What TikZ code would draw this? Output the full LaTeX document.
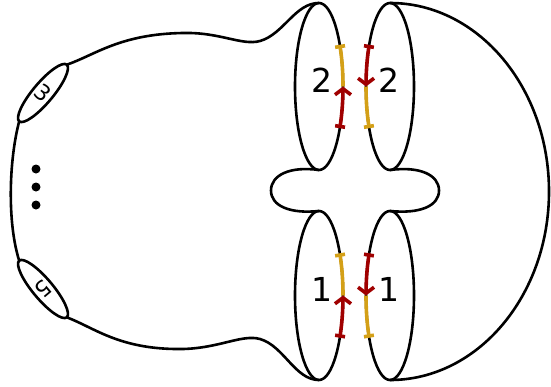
\documentclass[tikz,border=0pt]{standalone}
\usepackage{fontspec}
\setmainfont{DejaVu Sans}
\usetikzlibrary{arrows.meta}
\definecolor{gold}{RGB}{212,160,23}
\definecolor{dred}{RGB}{160,0,0}
\tikzset{
  outline/.style={line width=2.6pt, black, line join=round},
  goldseg/.style={line width=3.6pt, gold},
  redseg/.style={line width=3.6pt, dred},
  bigtxt/.style={font=\fontsize{33}{38}\selectfont, inner sep=0pt},
  smalltxt/.style={font=\fontsize{22}{26}\selectfont, inner sep=0pt},
  dotmark/.style={fill=black, circle, inner sep=0pt, minimum size=9pt},
}
\begin{document}
\begin{tikzpicture}[x=1pt, y=-1pt]
\useasboundingbox (0,0) rectangle (551,386);
% boundary circles
\draw[outline] (319,86.5) ellipse [x radius=24pt, y radius=83.5pt];
\draw[outline] (390,86.5) ellipse [x radius=24pt, y radius=83.5pt];
\draw[outline] (319,295.5) ellipse [x radius=24pt, y radius=84.5pt];
\draw[outline] (390,295.5) ellipse [x radius=24pt, y radius=84.5pt];
% small boundary ellipses
\draw[outline, rotate around={50:(43,93)}] (43,93) ellipse [x radius=37pt, y radius=10pt];
\draw[outline, rotate around={-50:(43,289)}] (43,289) ellipse [x radius=37pt, y radius=10pt];
\node[smalltxt, rotate=-40] (l3) at (43,92.5) {3};
\node[smalltxt, rotate=-140] (l5) at (43,289.5) {5};
% coordinates
\coordinate (e3a) at (66.8,64.7);
\coordinate (e3b) at (19.2,121.3);
\coordinate (e5a) at (19.2,260.7);
\coordinate (e5b) at (66.8,317.3);
\coordinate (tl) at (319,3);
\coordinate (tr) at (390,3);
\coordinate (bl) at (319,380);
\coordinate (br) at (390,380);
% body outline
\draw[outline] (e3a) .. controls (95,55) and (120,34) .. (183,33)
  .. controls (220,32) and (242,46) .. (260,41)
  .. controls (284,34) and (295,3) .. (tl);
\draw[outline] (e5b) .. controls (95,328) and (120,350) .. (183,349)
  .. controls (220,348) and (242,334) .. (260,339)
  .. controls (284,346) and (295,380) .. (bl);
\draw[outline] (e3b) .. controls (9,160) and (7,222) .. (e5a);
% middle lobes
\draw[outline] (319,170) .. controls (290,166) and (271,175) .. (271,190.5)
  .. controls (271,206) and (290,214) .. (319,211);
\draw[outline] (390,170) .. controls (420,166) and (439,175) .. (439,190.5)
  .. controls (439,206) and (420,214) .. (390,211);
% big right arc
\draw[outline] (tr) .. controls (477.8,3) and (549,87.4) .. (549,191.5)
  .. controls (549,295.6) and (477.8,380) .. (br);
% dots
\node[dotmark] (d1) at (36,169) {};
\node[dotmark] (d2) at (36,187) {};
\node[dotmark] (d3) at (36,205) {};
% labels
\node[bigtxt] (a2) at (321.5,80.5) {2};
\node[bigtxt] (b2) at (388.5,80.5) {2};
\node[bigtxt] (a1) at (321.5,289.5) {1};
\node[bigtxt] (b1) at (388.5,289.5) {1};
% coloured arcs, top pair
\draw[goldseg, {Bar[width=10pt]}-] plot[domain=30:0, samples=25] ({319+24*cos(\x)},{86.5-83.5*sin(\x)});
\draw[redseg, {Bar[width=10pt]}-{Straight Barb[length=6pt, width=16pt]}] plot[domain=-30:0, samples=25] ({319+24*cos(\x)},{86.5-83.5*sin(\x)});
\draw[redseg, {Bar[width=10pt]}-{Straight Barb[length=6pt, width=16pt]}] plot[domain=150:180, samples=25] ({390+24*cos(\x)},{86.5-83.5*sin(\x)});
\draw[goldseg, -{Bar[width=10pt]}] plot[domain=180:210, samples=25] ({390+24*cos(\x)},{86.5-83.5*sin(\x)});
% coloured arcs, bottom pair
\draw[goldseg, {Bar[width=10pt]}-] plot[domain=30:0, samples=25] ({319+24*cos(\x)},{295.5-84.5*sin(\x)});
\draw[redseg, {Bar[width=10pt]}-{Straight Barb[length=6pt, width=16pt]}] plot[domain=-30:0, samples=25] ({319+24*cos(\x)},{295.5-84.5*sin(\x)});
\draw[redseg, {Bar[width=10pt]}-{Straight Barb[length=6pt, width=16pt]}] plot[domain=150:180, samples=25] ({390+24*cos(\x)},{295.5-84.5*sin(\x)});
\draw[goldseg, -{Bar[width=10pt]}] plot[domain=180:210, samples=25] ({390+24*cos(\x)},{295.5-84.5*sin(\x)});
\end{tikzpicture}
\end{document}
